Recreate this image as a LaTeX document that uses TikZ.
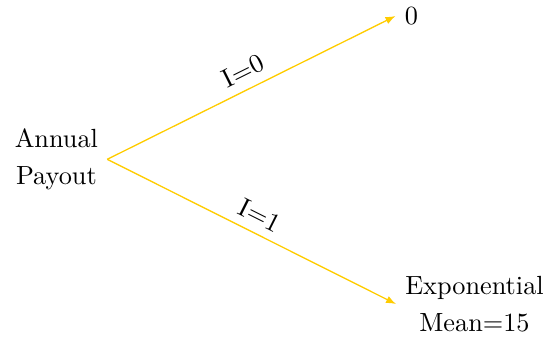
\documentclass[tikz,border=0pt]{standalone}
\usetikzlibrary{arrows.meta}
\definecolor{takgeel}{RGB}{255,204,0}
\begin{document}
\begin{tikzpicture}[>={Latex[length=3.8pt,width=2.9pt]},
  tak/.style={->, draw=takgeel, fill=takgeel, line width=0.5pt},
  uitkomst/.style={align=center, inner sep=3.33pt}]

  % Kader
  \useasboundingbox (0,0) rectangle (7.478,-4.508);

  % Wortel
  \node[uitkomst, anchor=east] (payout) at (1.435,-2.131)
    {Annual\\[2.1pt]Payout};

  % Uitkomsten
  \node[uitkomst, anchor=west] (nul) at (5.291,-0.214) {0};
  \node[uitkomst, anchor=west] (expo) at (5.298,-4.067)
    {Exponential\\[2.1pt]Mean=15};

  % Takken
  \draw[tak] (payout.east) -- (nul.west)
    node[midway, sloped, above, text=black] {I=0};
  \draw[tak] (payout.east) -- (expo.west)
    node[midway, sloped, above, text=black] {I=1};

\end{tikzpicture}
\end{document}
